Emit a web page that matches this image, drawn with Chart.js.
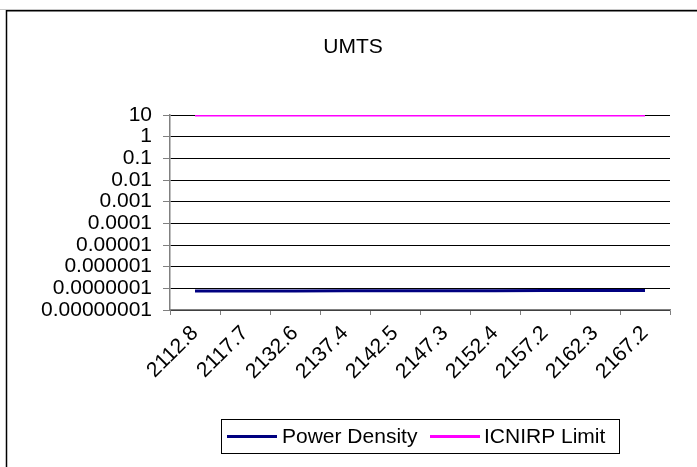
<!DOCTYPE html>
<html>
<head>
<meta charset="utf-8">
<script src="https://cdn.jsdelivr.net/npm/chart.js@4/dist/chart.umd.min.js"></script>
<style>
  html, body { margin: 0; padding: 0; background: #fff; }
  #wrap { position: relative; width: 697px; height: 467px; overflow: hidden; }
  canvas { position: absolute; left: 0; top: 0; }
</style>
</head>
<body>
<div id="wrap"><canvas id="c" width="697" height="467"></canvas></div>
<script>
const chartTitle = 'UMTS';
const categories = ['2112.8','2117.7','2132.6','2137.4','2142.5','2147.3','2152.4','2157.2','2162.3','2167.2'];
const powerDensity = [7.6e-8, 7.6e-8, 7.6e-8, 7.7e-8, 7.8e-8, 7.8e-8, 7.8e-8, 7.9e-8, 7.9e-8, 7.9e-8];
const icnirpLimit = [10, 10, 10, 10, 10, 10, 10, 10, 10, 10];
const yTickValues = [10, 1, 0.1, 0.01, 0.001, 0.0001, 0.00001, 0.000001, 0.0000001, 0.00000001];
const yTickLabels = ['10','1','0.1','0.01','0.001','0.0001','0.00001','0.000001','0.0000001','0.00000001'];

const FONT = 'Liberation Sans, Arial, sans-serif';
const FS = 21;

const decorPlugin = {
  id: 'decor',
  afterDraw(chart) {
    const ctx = chart.ctx;
    ctx.save();
    // outer border
    ctx.strokeStyle = '#c8c8c8';
    ctx.lineWidth = 1;
    ctx.beginPath();
    ctx.moveTo(0, 9.5);
    ctx.lineTo(900, 9.5);
    ctx.stroke();
    ctx.strokeStyle = '#000';
    ctx.lineWidth = 1.5;
    ctx.beginPath();
    ctx.moveTo(6.5, 700);
    ctx.lineTo(6.5, 10.75);
    ctx.lineTo(900, 10.75);
    ctx.stroke();
    // title
    ctx.fillStyle = '#000';
    ctx.font = '21px ' + FONT;
    ctx.textAlign = 'center';
    ctx.textBaseline = 'middle';
    ctx.fillText(chartTitle, 353, 47);
    // legend
    const lx = 221, ly = 419, lw = 398, lh = 34;
    ctx.lineWidth = 1;
    ctx.strokeStyle = '#000';
    ctx.strokeRect(lx + 0.5, ly + 0.5, lw, lh);
    const entries = [
      { x: 227, tx: 282 },
      { x: 430, tx: 484 }
    ];
    ctx.font = FS + 'px ' + FONT;
    ctx.textAlign = 'left';
    ctx.textBaseline = 'middle';
    chart.data.datasets.forEach((ds, i) => {
      const e = entries[i];
      const yy = ly + lh / 2 + 0.5;
      ctx.strokeStyle = ds.borderColor;
      ctx.lineWidth = 3;
      ctx.beginPath();
      ctx.moveTo(e.x, yy);
      ctx.lineTo(e.x + 50, yy);
      ctx.stroke();
      ctx.fillStyle = '#000';
      ctx.fillText(ds.label, e.tx, yy + 1);
    });
    ctx.restore();
  }
};

new Chart(document.getElementById('c'), {
  type: 'line',
  data: {
    labels: categories,
    datasets: [
      { label: 'Power Density', data: powerDensity, borderColor: '#000080', backgroundColor: '#000080', borderWidth: 3, pointRadius: 0, tension: 0 },
      { label: 'ICNIRP Limit', data: icnirpLimit, borderColor: '#FF00FF', backgroundColor: '#FF00FF', borderWidth: 3, pointRadius: 0, tension: 0 }
    ]
  },
  options: {
    responsive: false,
    animation: false,
    devicePixelRatio: 1,
    layout: { padding: { left: 0, top: 115, right: 27, bottom: 0 } },
    plugins: { legend: { display: false }, title: { display: false }, tooltip: { enabled: false } },
    scales: {
      x: {
        type: 'category',
        offset: true,
        grid: { offset: true, drawOnChartArea: false, drawTicks: true, tickLength: 5, color: '#808080', lineWidth: 1 },
        border: { display: true, color: '#808080', width: 1.5 },
        ticks: { autoSkip: false, maxRotation: 45, minRotation: 45, color: '#000', font: { family: FONT, size: FS }, padding: 6 },
        afterFit(scale) { scale.height = 467 - 310; }
      },
      y: {
        type: 'logarithmic',
        min: 0.00000001,
        max: 10,
        afterBuildTicks(scale) { scale.ticks = yTickValues.map(v => ({ value: v })); },
        grid: { color: '#000', lineWidth: 1, drawTicks: true, tickLength: 7, tickColor: '#808080' },
        border: { display: true, color: '#808080', width: 1.5 },
        ticks: {
          autoSkip: false,
          color: '#000',
          font: { family: FONT, size: FS },
          padding: 11,
          callback(value) {
            const idx = yTickValues.findIndex(v => Math.abs(Math.log10(v) - Math.log10(value)) < 1e-6);
            return idx >= 0 ? yTickLabels[idx] : '';
          }
        },
        afterFit(scale) { scale.width = 170; }
      }
    }
  },
  plugins: [decorPlugin]
});
</script>
</body>
</html>
